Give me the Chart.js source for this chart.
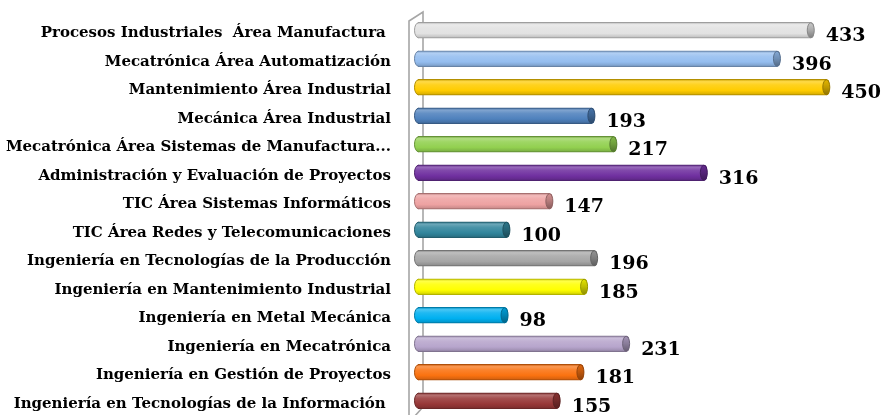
<!DOCTYPE html>
<html>
<head>
<meta charset="utf-8">
<script src="https://cdn.jsdelivr.net/npm/chart.js@4"></script>
<style>
  html, body { margin: 0; padding: 0; background: #ffffff; }
  #wrap { width: 884px; height: 415px; position: relative; }
</style>
</head>
<body>
<div id="wrap"><canvas id="c"></canvas></div>
<script>
const categories = [
  "Procesos Industriales  Área Manufactura ",
  "Mecatrónica Área Automatización",
  "Mantenimiento Área Industrial",
  "Mecánica Área Industrial",
  "Mecatrónica Área Sistemas de Manufactura...",
  "Administración y Evaluación de Proyectos",
  "TIC Área Sistemas Informáticos",
  "TIC Área Redes y Telecomunicaciones",
  "Ingeniería en Tecnologías de la Producción",
  "Ingeniería en Mantenimiento Industrial",
  "Ingeniería en Metal Mecánica",
  "Ingeniería en Mecatrónica",
  "Ingeniería en Gestión de Proyectos",
  "Ingeniería en Tecnologías de la Información "
];
const values = [433, 396, 450, 193, 217, 316, 147, 100, 196, 185, 98, 231, 181, 155];
const barColors = [
  "#e2e2e2", "#94bdef", "#ffcc00", "#4f81bd", "#92d050", "#7030a0", "#eea2a2",
  "#31859c", "#a6a6a6", "#ffff00", "#00b0f0", "#b7a5cc", "#fa7210", "#983838"
];

function hexToRgb(h) {
  h = h.replace('#', '');
  return [parseInt(h.substr(0,2),16), parseInt(h.substr(2,2),16), parseInt(h.substr(4,2),16)];
}
function mix(hex, t) {
  const c = hexToRgb(hex);
  const r = c.map(v => t >= 0 ? Math.round(v + (255 - v) * t) : Math.round(v * (1 + t)));
  return 'rgb(' + r.join(',') + ')';
}
const BAR_H = 16;

function barGradient(context) {
  const chart = context.chart;
  const i = context.dataIndex;
  const base = barColors[i % barColors.length];
  const yScale = chart.scales && chart.scales.y;
  if (!yScale) return base;
  const y = yScale.getPixelForValue(i);
  if (y === undefined || isNaN(y)) return base;
  const g = chart.ctx.createLinearGradient(0, y - BAR_H / 2, 0, y + BAR_H / 2);
  g.addColorStop(0, mix(base, -0.2));
  g.addColorStop(0.15, mix(base, 0.28));
  g.addColorStop(0.35, mix(base, 0.12));
  g.addColorStop(0.7, base);
  g.addColorStop(0.9, mix(base, -0.12));
  g.addColorStop(1, mix(base, -0.3));
  return g;
}

const decoPlugin = {
  id: 'deco',
  beforeDatasetsDraw(chart) {
    const { ctx, chartArea } = chart;
    const x0 = chart.scales.x.getPixelForValue(0);
    ctx.save();
    ctx.strokeStyle = '#a6a6a6';
    ctx.lineWidth = 1.6;
    ctx.beginPath();
    ctx.moveTo(x0 - 9, chartArea.bottom + 2);
    ctx.lineTo(x0 - 9, chartArea.top + 5);
    ctx.lineTo(x0 + 5, chartArea.top - 4);
    ctx.lineTo(x0 + 5, chartArea.bottom - 8);
    ctx.lineTo(x0 - 4, chartArea.bottom + 2);
    ctx.stroke();
    ctx.restore();
  },
  afterDatasetsDraw(chart) {
    const { ctx } = chart;
    const meta = chart.getDatasetMeta(0);
    ctx.save();
    meta.data.forEach((el, i) => {
      const base = barColors[i % barColors.length];
      const h = el.height;
      const g = barGradient({ chart, dataIndex: i });
      ctx.fillStyle = g;
      ctx.strokeStyle = mix(base, -0.3);
      ctx.lineWidth = 1;
      ctx.beginPath();
      ctx.ellipse(el.base + 0.5, el.y, 4, h / 2 - 0.5, 0, Math.PI / 2, Math.PI * 1.5);
      ctx.fill();
      ctx.stroke();
      const g2 = ctx.createLinearGradient(0, el.y - h / 2, 0, el.y + h / 2);
      g2.addColorStop(0, mix(base, -0.1));
      g2.addColorStop(0.5, mix(base, -0.25));
      g2.addColorStop(1, mix(base, -0.45));
      ctx.fillStyle = g2;
      ctx.strokeStyle = mix(base, -0.4);
      ctx.beginPath();
      ctx.ellipse(el.x - 3, el.y, 3.5, h / 2 - 0.5, 0, 0, Math.PI * 2);
      ctx.fill();
      ctx.stroke();
      ctx.fillStyle = '#000000';
      ctx.font = 'bold 19px "DejaVu Serif"';
      ctx.textAlign = 'left';
      ctx.textBaseline = 'alphabetic';
      ctx.fillText(String(values[i]), el.x + 12, el.y + 11);
    });
    ctx.restore();
  }
};

new Chart(document.getElementById('c'), {
  type: 'bar',
  data: {
    labels: categories,
    datasets: [{
      data: values,
      backgroundColor: barGradient,
      borderColor: (ctx) => mix(barColors[ctx.dataIndex % barColors.length], -0.3),
      borderWidth: 1,
      borderSkipped: 'start',
      borderRadius: 4,
      barThickness: BAR_H
    }]
  },
  options: {
    indexAxis: 'y',
    responsive: true,
    maintainAspectRatio: false,
    animation: false,
    layout: { padding: { top: 16, bottom: 0, left: 0, right: 9 } },
    plugins: { legend: { display: false }, tooltip: { enabled: false } },
    scales: {
      x: {
        display: false,
        min: 0,
        max: 500
      },
      y: {
        grid: { display: false, drawTicks: false },
        border: { display: false },
        afterFit(scale) {
          scale.width = 418;
          scale.paddingTop = 0;
          scale.paddingBottom = 0;
        },
        ticks: {
          color: '#000000',
          padding: 27,
          labelOffset: 3,
          autoSkip: false,
          font: { family: '"DejaVu Serif"', weight: 'bold', size: 15 }
        }
      }
    }
  },
  plugins: [decoPlugin]
});
</script>
</body>
</html>
